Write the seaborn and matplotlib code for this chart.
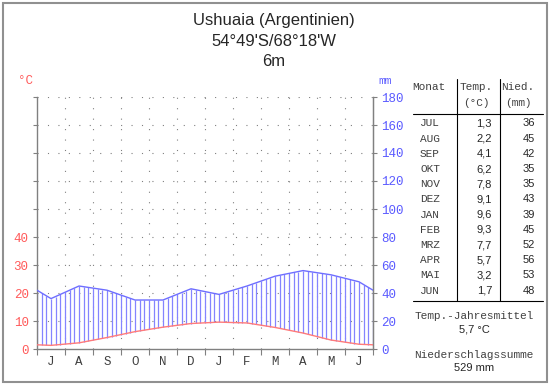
import numpy as np
import pandas as pd
import seaborn as sns
import matplotlib.pyplot as plt
from matplotlib.patches import Rectangle

# climate data, Ushuaia (Argentinien), year starting in July
months = ['JUL', 'AUG', 'SEP', 'OKT', 'NOV', 'DEZ', 'JAN', 'FEB', 'MRZ', 'APR', 'MAI', 'JUN']
month_letters = ['J', 'A', 'S', 'O', 'N', 'D', 'J', 'F', 'M', 'A', 'M', 'J']
temp = [1.3, 2.2, 4.1, 6.2, 7.8, 9.1, 9.6, 9.3, 7.7, 5.7, 3.2, 1.7]
precip = [36, 45, 42, 35, 35, 43, 39, 45, 52, 56, 53, 48]
temp_ticks = [0, 10, 20, 30, 40]
precip_ticks = [0, 20, 40, 60, 80, 100, 120, 140, 160, 180]

title_lines = ['Ushuaia (Argentinien)', "54°49'S/68°18'W", '6m']
mean_temp = '5,7 °C'
precip_sum = '529 mm'

RED = '#ff5a5a'
BLUE = '#5a5aff'
GRAY = '#808080'
MONO = 'Liberation Mono'
SANS = 'Liberation Sans'

sns.set_style('white')
plt.rcParams['font.family'] = [SANS, 'DejaVu Sans']

# month centres plus wrap-around values at the year edges
x = np.r_[0, np.arange(12) + 0.5, 12]
t_edge = (temp[0] + temp[-1]) / 2
p_edge = (precip[0] + precip[-1]) / 2
df = pd.DataFrame({
    'x': x,
    'temp': np.r_[t_edge, temp, t_edge],
    'precip': np.r_[p_edge, precip, p_edge] / 2,  # 20 mm = 10 °C
})

fig = plt.figure(figsize=(5.5, 3.84), dpi=100)
ax = fig.add_axes([37 / 550, 35 / 384, 336 / 550, 252 / 384])

# hatching between temperature and precipitation curve (humid period)
hx = np.linspace(0, 12, 73)
ax.vlines(hx, np.interp(hx, df['x'], df['temp']), np.interp(hx, df['x'], df['precip']),
          color='#8484ff', lw=0.9, zorder=2)
sns.lineplot(data=df, x='x', y='precip', color='#6e6eff', lw=1.0, ax=ax, zorder=3)
sns.lineplot(data=df, x='x', y='temp', color='#ff7a7a', lw=1.0, ax=ax, zorder=3)

ax.set_xlim(0, 12)
ax.set_ylim(0, 90)
ax.set_xlabel('')
ax.set_ylabel('')

# dotted grid
for v in range(1, 12):
    ax.plot([v, v], [0, 90], color=GRAY, lw=0.8, dashes=(1, 8.4), zorder=1)
for h in range(10, 100, 10):
    ax.plot([0, 12], [h, h], color=GRAY, lw=0.8, dashes=(1, 8.4), zorder=1)

for s in ['left', 'bottom', 'right']:
    ax.spines[s].set_color(GRAY)
    ax.spines[s].set_linewidth(1.0)
ax.spines['top'].set_visible(False)

ax.set_xticks(range(13))
ax.set_xticklabels([])
ax.set_xticks(np.arange(12) + 0.5, minor=True)
ax.set_xticklabels(month_letters, minor=True, family=MONO, fontsize=9, color='#404040')
ax.tick_params(axis='x', which='major', length=4, color=GRAY, direction='out', bottom=True)
ax.tick_params(axis='x', which='minor', length=0, pad=5, bottom=True)

ax.set_yticks(range(0, 100, 10))
ax.set_yticklabels([str(v) if v in temp_ticks else '' for v in range(0, 100, 10)],
                   family=MONO, fontsize=9, color=RED)
ax.tick_params(axis='y', length=3, color=GRAY, direction='out', left=True, pad=3)

ax2 = ax.twinx()
ax2.set_ylim(0, 180)
ax2.set_yticks(precip_ticks)
ax2.set_yticklabels([str(v) for v in precip_ticks], family=MONO, fontsize=9, color=BLUE)
ax2.tick_params(axis='y', length=3, color=GRAY, direction='out', right=True, pad=3)
for s in ['left', 'bottom', 'top']:
    ax2.spines[s].set_visible(False)
ax2.spines['right'].set_color(GRAY)

fig.text(25 / 550, 1 - 81 / 384, '°C', color=RED, family=MONO, fontsize=9, ha='center', va='center')
fig.text(385 / 550, 1 - 81 / 384, 'mm', color=BLUE, family=MONO, fontsize=8, ha='center', va='center')

# title
for i, line in enumerate(title_lines):
    fig.text(274 / 550, 1 - (20 + 21 * i) / 384, line, fontsize=12, ha='center', va='center')

# table
def fx(px):
    return px / 550

def fy(py):
    return 1 - py / 384

fig.text(fx(429), fy(87), 'Monat', family=MONO, fontsize=8, color='#404040', ha='center', va='center')
fig.text(fx(476), fy(87), 'Temp.', family=MONO, fontsize=8, color='#404040', ha='center', va='center')
fig.text(fx(476), fy(103), '(°C)', family=MONO, fontsize=8, color='#404040', ha='center', va='center')
fig.text(fx(518), fy(87), 'Nied.', family=MONO, fontsize=8, color='#404040', ha='center', va='center')
fig.text(fx(518), fy(103), '(mm)', family=MONO, fontsize=8, color='#404040', ha='center', va='center')

for i, (m, t, p) in enumerate(zip(months, temp, precip)):
    yy = fy(123.5 + 15.2 * i)
    fig.text(fx(430), yy, m, family=MONO, fontsize=8, color='#404040', ha='center', va='center')
    fig.text(fx(492), yy, f'{t:.1f}'.replace('.', ','), fontsize=8, ha='right', va='center')
    fig.text(fx(535), yy, str(p), fontsize=8, ha='right', va='center')

fig.add_artist(plt.Line2D([fx(457), fx(457)], [fy(79), fy(301)], color='black', lw=0.8))
fig.add_artist(plt.Line2D([fx(499.5), fx(499.5)], [fy(79), fy(301)], color='black', lw=0.8))
fig.add_artist(plt.Line2D([fx(413), fx(543)], [fy(114), fy(114)], color='black', lw=0.8))
fig.add_artist(plt.Line2D([fx(413), fx(543)], [fy(301), fy(301)], color='black', lw=0.8))

fig.text(fx(474), fy(316), 'Temp.-Jahresmittel', family=MONO, fontsize=8, color='#404040', ha='center', va='center')
fig.text(fx(474), fy(329), mean_temp, fontsize=8, ha='center', va='center')
fig.text(fx(474), fy(355), 'Niederschlagssumme', family=MONO, fontsize=8, color='#404040', ha='center', va='center')
fig.text(fx(474), fy(368), precip_sum, fontsize=8, ha='center', va='center')

# image frame
fig.add_artist(Rectangle((fx(2.5), fy(381.5)), fx(544), 379 / 384, fill=False,
                         edgecolor='#909090', lw=1.5, transform=fig.transFigure))

fig.savefig('out.png', dpi=100)
